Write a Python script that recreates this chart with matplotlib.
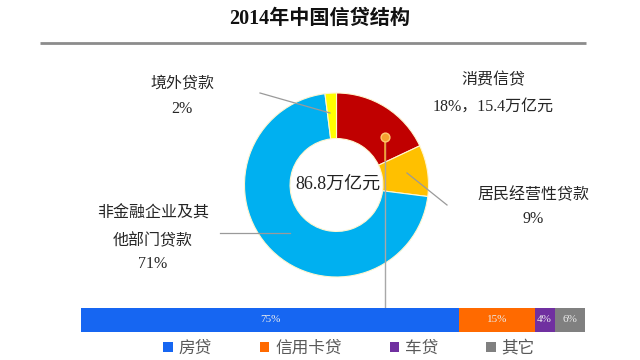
import matplotlib
matplotlib.use("Agg")
import matplotlib.pyplot as plt
from matplotlib.patches import Patch

plt.rcParams['font.family'] = ['Noto Sans CJK SC', 'DejaVu Sans']

title = "2014年中国信贷结构"
total_label = "86.8万亿元"
donut_labels = ["消费信贷", "居民经营性贷款", "非金融企业及其\n他部门贷款", "境外贷款"]
donut_values = [18, 9, 71, 2]
donut_colors = ["#C00000", "#FFC000", "#00B0F0", "#FFFF00"]

bar_labels = ["房贷", "信用卡贷", "车贷", "其它"]
bar_values = [75, 15, 4, 6]
bar_colors = ["#1666F2", "#FF6A00", "#7030A0", "#808080"]

serif = ['Liberation Serif', 'Noto Sans CJK SC']
W, H = 640, 360
fig = plt.figure(figsize=(6.4, 3.6), dpi=100)
ax = fig.add_axes([0, 0, 1, 1])

def Y(y):
    return H - y

cx, cy, R = 336.5, Y(185), 92
wedges, _ = ax.pie(donut_values, colors=donut_colors, startangle=90, counterclock=False,
                   center=(cx, cy), radius=R,
                   wedgeprops=dict(width=R * 0.495, edgecolor="#FFF6D0", linewidth=0.8))
ax.set_xlim(0, W)
ax.set_ylim(0, H)
ax.set_aspect('equal')
ax.axis('off')

# title and rule
ax.text(320, Y(19), title, ha='center', va='center', fontsize=14.5, fontweight='bold',
        family=['Liberation Serif', 'Noto Sans CJK SC'], color='#111111')
ax.plot([40, 586], [Y(43), Y(43)], color='#8C8C8C', lw=2, solid_capstyle='butt')

# center text
ax.text(cx + 1, cy + 1, total_label, ha='center', va='center', fontsize=13,
        family=serif, color='#222222')

tc = '#262626'
# labels
ax.text(493, Y(80), donut_labels[0], ha='center', va='center', fontsize=11.5, color=tc)
ax.text(493, Y(107), f"{donut_values[0]}%，15.4万亿元", ha='center', va='center', fontsize=11.5,
        family=serif, color=tc)
ax.text(533, Y(195), donut_labels[1], ha='center', va='center', fontsize=11.5, color=tc)
ax.text(533, Y(219), f"{donut_values[1]}%", ha='center', va='center', fontsize=11.5,
        family=serif, color=tc)
ax.text(153, Y(213), donut_labels[2].split("\n")[0], ha='center', va='center', fontsize=11.5, color=tc)
ax.text(153, Y(241), donut_labels[2].split("\n")[1], ha='center', va='center', fontsize=11.5, color=tc)
ax.text(153, Y(264), f"{donut_values[2]}%", ha='center', va='center', fontsize=11.5,
        family=serif, color=tc)
ax.text(182, Y(84), donut_labels[3], ha='center', va='center', fontsize=11.5, color=tc)
ax.text(182, Y(109), f"{donut_values[3]}%", ha='center', va='center', fontsize=11.5,
        family=serif, color=tc)

# leader lines
lc = '#9A9A9A'
ax.plot([260, 330], [Y(93), Y(113)], color=lc, lw=0.9)
ax.plot([220, 290], [Y(233), Y(233)], color=lc, lw=0.9)
ax.plot([407, 447], [Y(173), Y(205)], color=lc, lw=0.9)

# dot + connector to bar
ax.plot([384.5, 384.5], [Y(137), Y(309)], color='#A8A8A8', lw=1.0, zorder=5)
ax.plot([384.5, 384.5], [Y(137), Y(160)], color='#F5A030', lw=1.2, zorder=6)
ax.scatter([384.5], [Y(137)], s=40, color='#F5A030', edgecolor='#FFC870', linewidth=1, zorder=7)

# stacked bar
bx = fig.add_axes([81 / W, (H - 332) / H, 504 / W, 24 / H])
left = 0
handles = []
for lab, v, c in zip(bar_labels, bar_values, bar_colors):
    bx.barh([0], [v], left=left, height=1.0, color=c, edgecolor='none')
    bx.text(left + v / 2, 0, f"{v}%", ha='center', va='center', fontsize=8,
            color='#EDEDED', family=serif)
    handles.append(Patch(facecolor=c, edgecolor='none', label=lab))
    left += v
bx.set_xlim(0, sum(bar_values))
bx.set_ylim(-0.5, 0.5)
bx.axis('off')

leg = fig.legend(handles=handles, loc='center', bbox_to_anchor=(349 / W, (H - 348) / H),
                 ncol=4, frameon=False, fontsize=12, handlelength=0.55, handleheight=0.55,
                 handletextpad=0.35, columnspacing=2.9, labelcolor='#595959',
                 borderaxespad=0, borderpad=0)

fig.savefig("out.png", dpi=100)
